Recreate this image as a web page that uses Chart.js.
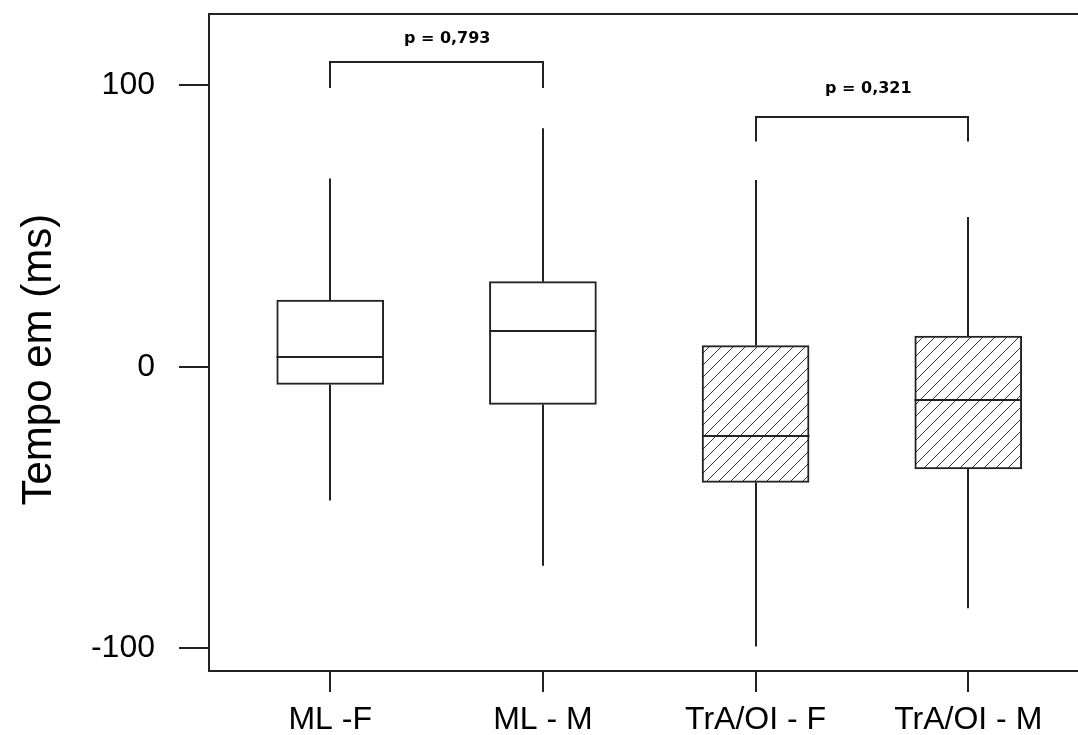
<!DOCTYPE html>
<html>
<head>
<meta charset="utf-8">
<script src="https://cdn.jsdelivr.net/npm/chart.js@4.4.1/dist/chart.umd.min.js"></script>
<style>
  html, body { margin: 0; padding: 0; background: #fff; overflow: hidden; }
</style>
</head>
<body>
<canvas id="grafico" width="1078" height="735"></canvas>
<script>
// box plot values (ms)
const groups = ['ML -F', 'ML - M', 'TrA/OI - F', 'TrA/OI - M'];
const whiskerMin = [-47.5, -70.7, -99.4, -85.8];
const q1 = [-6.3, -13.4, -41.1, -36.3];
const median = [3.5, 12.6, -24.5, -11.8];
const q3 = [23.7, 30.2, 7.5, 10.9];
const whiskerMax = [66.9, 84.7, 66.3, 53.2];
const hatched = [false, false, true, true];
const yTicks = [-100, 0, 100];
const yTitle = 'Tempo em (ms)';
const pLabels = ['p = 0,793', 'p = 0,321'];
const pPairs = [[1, 2], [3, 4]];

// where the brackets sit (in axis units)
const brackets = [
  { top: 108.3, foot: 99, text: 116.5, textX: 1.55 },
  { top: 88.8, foot: 80, text: 98.8, textX: 3.53 }
];

const ink = '#222';
const ctx = document.getElementById('grafico').getContext('2d');

const makeHatch = () => {
  const c = document.createElement('canvas');
  c.width = 12; c.height = 12;
  const g = c.getContext('2d');
  g.fillStyle = '#fff';
  g.fillRect(0, 0, 12, 12);
  g.strokeStyle = '#333';
  g.lineWidth = 1;
  g.beginPath();
  g.moveTo(-2, 14); g.lineTo(14, -2);
  g.moveTo(-2, 2); g.lineTo(2, -2);
  g.moveTo(10, 14); g.lineTo(14, 10);
  g.stroke();
  return ctx.createPattern(c, 'repeat');
};
const hatch = makeHatch();

const boxExtras = {
  id: 'boxExtras',
  afterDatasetsDraw(chart) {
    const { ctx, chartArea, scales: { x, y } } = chart;
    const meta = chart.getDatasetMeta(0);
    ctx.save();
    ctx.strokeStyle = ink;
    ctx.lineWidth = 2;
    ctx.beginPath();
    groups.forEach((g, i) => {
      const cx = Math.round(x.getPixelForValue(i + 1));
      const half = meta.data[i].width / 2;
      ctx.moveTo(cx, y.getPixelForValue(q3[i]));
      ctx.lineTo(cx, y.getPixelForValue(whiskerMax[i]));
      ctx.moveTo(cx, y.getPixelForValue(q1[i]));
      ctx.lineTo(cx, y.getPixelForValue(whiskerMin[i]));
      const my = Math.round(y.getPixelForValue(median[i]));
      ctx.moveTo(cx - half, my);
      ctx.lineTo(cx + half, my);
    });
    // top of frame
    ctx.moveTo(chartArea.left - 1, chartArea.top);
    ctx.lineTo(chartArea.right, chartArea.top);
    // significance brackets
    brackets.forEach((b, i) => {
      const x1 = Math.round(x.getPixelForValue(pPairs[i][0]));
      const x2 = Math.round(x.getPixelForValue(pPairs[i][1]));
      const yt = Math.round(y.getPixelForValue(b.top));
      const yf = y.getPixelForValue(b.foot);
      ctx.moveTo(x1, yf);
      ctx.lineTo(x1, yt);
      ctx.lineTo(x2, yt);
      ctx.lineTo(x2, yf);
    });
    ctx.stroke();
    ctx.fillStyle = '#000';
    ctx.font = 'bold 16px "DejaVu Sans"';
    ctx.textAlign = 'center';
    ctx.textBaseline = 'middle';
    brackets.forEach((b, i) => {
      ctx.fillText(pLabels[i], x.getPixelForValue(b.textX), y.getPixelForValue(b.text));
    });
    // axis title, centred a bit lower than the plot box like the original
    ctx.translate(39, y.getPixelForValue(2.5));
    ctx.rotate(-Math.PI / 2);
    ctx.font = '42px "Liberation Sans"';
    ctx.fillText(yTitle, 0, 0);
    ctx.restore();
  }
};

new Chart(ctx, {
  type: 'bar',
  data: {
    datasets: [{
      data: groups.map((g, i) => ({ x: i + 1, y: [q1[i], q3[i]] })),
      backgroundColor: hatched.map(h => h ? hatch : '#fff'),
      borderColor: ink,
      borderWidth: 2,
      borderSkipped: false,
      barThickness: 107
    }]
  },
  options: {
    responsive: false,
    animation: false,
    layout: { padding: { top: 14, right: 0, bottom: 0, left: 0 } },
    plugins: {
      legend: { display: false },
      tooltip: { enabled: false }
    },
    scales: {
      x: {
        type: 'linear',
        offset: false,
        min: 0.43,
        max: 4.516,
        afterFit(s) { s.height = 64; s.paddingLeft = 0; s.paddingRight = 0; },
        afterBuildTicks(s) { s.ticks = groups.map((g, i) => ({ value: i + 1 })); },
        ticks: {
          callback: v => groups[Math.round(v) - 1],
          font: { family: 'Liberation Sans', size: 32 },
          color: '#000',
          padding: 9,
          maxRotation: 0,
          autoSkip: false
        },
        grid: { offset: false, drawOnChartArea: false, tickLength: 21, color: ink, lineWidth: 2 },
        border: { color: ink, width: 2 }
      },
      y: {
        min: -108.1,
        max: 125.3,
        afterFit(s) { s.width = 209; s.paddingTop = 0; s.paddingBottom = 0; },
        afterBuildTicks(s) { s.ticks = yTicks.map(v => ({ value: v })); },
        ticks: {
          font: { family: 'Liberation Sans', size: 32 },
          color: '#000',
          padding: 24
        },
        grid: { drawOnChartArea: false, tickLength: 30, color: ink, lineWidth: 2 },
        border: { color: ink, width: 2 }
      }
    }
  },
  plugins: [boxExtras]
});
</script>
</body>
</html>
